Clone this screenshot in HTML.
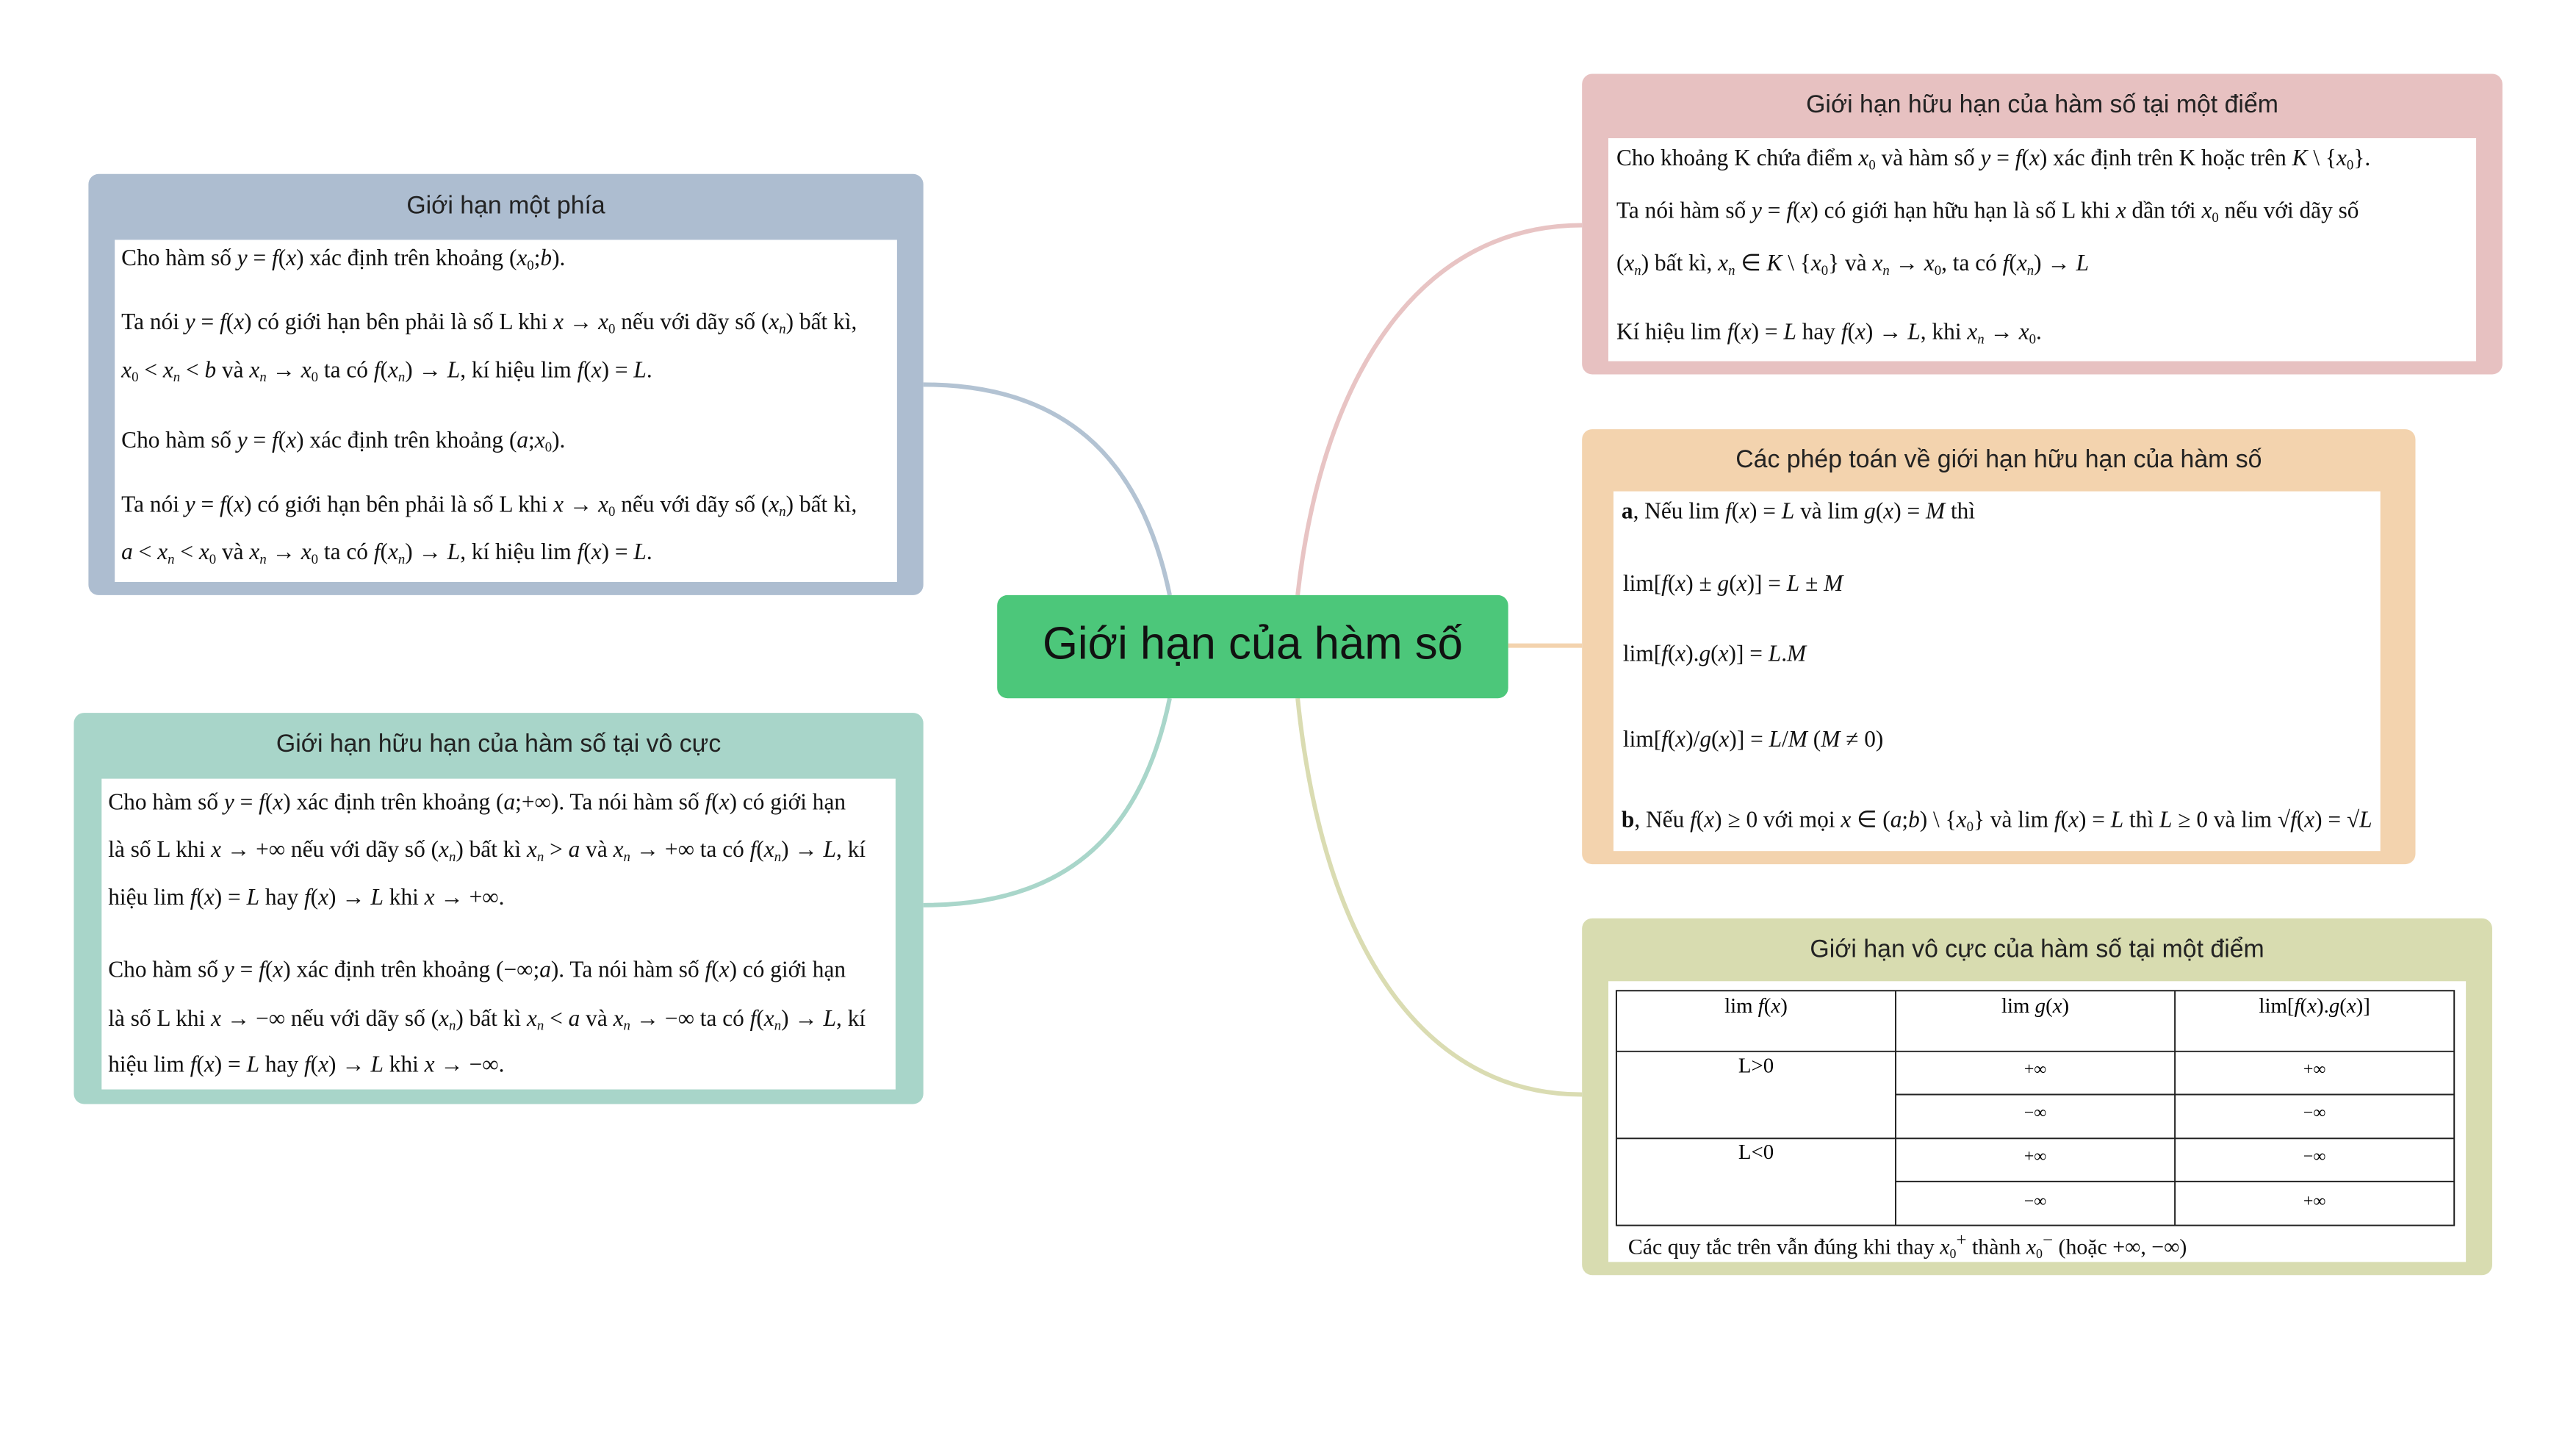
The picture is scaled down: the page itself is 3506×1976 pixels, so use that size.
<!DOCTYPE html>
<html><head><meta charset="utf-8"><style>
body{margin:0;width:3506px;height:1976px;background:#fff;position:relative;overflow:hidden;font-family:"Liberation Serif",serif;}
#wrap{position:absolute;left:0;top:0;width:3506px;height:1976px;transform:scale(0.995);transform-origin:0 0;}
.box{position:absolute;border-radius:14px;}
.w{position:absolute;background:#fff;}
.t{position:absolute;font-family:"Liberation Sans",sans-serif;font-size:34px;color:#222;text-align:center;white-space:nowrap;}
.l{position:absolute;font-size:31.5px;color:#111;white-space:nowrap;line-height:36px;}
.l i{font-style:italic;}
sub{font-size:60%;vertical-align:-0.3em;}
.c{position:absolute;font-size:29px;text-align:center;white-space:nowrap;}
</style></head><body><div id="wrap">
<svg width="3506" height="1976" style="position:absolute;left:0;top:0">
<g fill="none" stroke-width="6">
<path d="M1600 814 C1560 620 1450 526 1263 526" stroke="#b3c3d3"/>
<path d="M1600 955 C1560 1150 1450 1238 1263 1238" stroke="#a9d6ca"/>
<path d="M1775 814 C1810 500 1950 308 2164 308" stroke="#e8c4c4"/>
<path d="M2063 883 L2164 883" stroke="#f3d3ae"/>
<path d="M1775 955 C1810 1300 1950 1497 2164 1497" stroke="#dadcb2"/>
</g></svg>

<div class="box" style="left:1364px;top:814px;width:699px;height:141px;background:#4cc77a;"></div>
<div class="t" style="left:1364px;top:845px;width:699px;font-size:62px;color:#111;">Giới hạn của hàm số</div>

<div class="box" style="left:121px;top:238px;width:1142px;height:576px;background:#adbdd0;"></div>
<div class="t" style="left:121px;top:262px;width:1142px;">Giới hạn một phía</div>
<div class="w" style="left:157px;top:328px;width:1070px;height:468px;"></div>
<div class="l" style="left:166px;top:335px;">Cho hàm số <i>y</i> = <i>f</i>(<i>x</i>) xác định trên khoảng (<i>x</i><sub>0</sub>;<i>b</i>).</div>
<div class="l" style="left:166px;top:422px;">Ta nói <i>y</i> = <i>f</i>(<i>x</i>) có giới hạn bên phải là số L khi <i>x</i> → <i>x</i><sub>0</sub> nếu với dãy số (<i>x<sub>n</sub></i>) bất kì,</div>
<div class="l" style="left:166px;top:488px;"><i>x</i><sub>0</sub> &lt; <i>x<sub>n</sub></i> &lt; <i>b</i> và <i>x<sub>n</sub></i> → <i>x</i><sub>0</sub> ta có <i>f</i>(<i>x<sub>n</sub></i>) → <i>L</i>, kí hiệu lim <i>f</i>(<i>x</i>) = <i>L</i>.</div>
<div class="l" style="left:166px;top:584px;">Cho hàm số <i>y</i> = <i>f</i>(<i>x</i>) xác định trên khoảng (<i>a</i>;<i>x</i><sub>0</sub>).</div>
<div class="l" style="left:166px;top:672px;">Ta nói <i>y</i> = <i>f</i>(<i>x</i>) có giới hạn bên phải là số L khi <i>x</i> → <i>x</i><sub>0</sub> nếu với dãy số (<i>x<sub>n</sub></i>) bất kì,</div>
<div class="l" style="left:166px;top:737px;"><i>a</i> &lt; <i>x<sub>n</sub></i> &lt; <i>x</i><sub>0</sub> và <i>x<sub>n</sub></i> → <i>x</i><sub>0</sub> ta có <i>f</i>(<i>x<sub>n</sub></i>) → <i>L</i>, kí hiệu lim <i>f</i>(<i>x</i>) = <i>L</i>.</div>

<div class="box" style="left:101px;top:975px;width:1162px;height:535px;background:#a8d5c9;"></div>
<div class="t" style="left:101px;top:998px;width:1162px;">Giới hạn hữu hạn của hàm số tại vô cực</div>
<div class="w" style="left:139px;top:1065px;width:1086px;height:425px;"></div>
<div class="l" style="left:148px;top:1079px;">Cho hàm số <i>y</i> = <i>f</i>(<i>x</i>) xác định trên khoảng (<i>a</i>;+∞). Ta nói hàm số <i>f</i>(<i>x</i>) có giới hạn</div>
<div class="l" style="left:148px;top:1144px;">là số L khi <i>x</i> → +∞ nếu với dãy số (<i>x<sub>n</sub></i>) bất kì <i>x<sub>n</sub></i> &gt; <i>a</i> và <i>x<sub>n</sub></i> → +∞ ta có <i>f</i>(<i>x<sub>n</sub></i>) → <i>L</i>, kí</div>
<div class="l" style="left:148px;top:1209px;">hiệu lim <i>f</i>(<i>x</i>) = <i>L</i> hay <i>f</i>(<i>x</i>) → <i>L</i> khi <i>x</i> → +∞.</div>
<div class="l" style="left:148px;top:1308px;">Cho hàm số <i>y</i> = <i>f</i>(<i>x</i>) xác định trên khoảng (−∞;<i>a</i>). Ta nói hàm số <i>f</i>(<i>x</i>) có giới hạn</div>
<div class="l" style="left:148px;top:1375px;">là số L khi <i>x</i> → −∞ nếu với dãy số (<i>x<sub>n</sub></i>) bất kì <i>x<sub>n</sub></i> &lt; <i>a</i> và <i>x<sub>n</sub></i> → −∞ ta có <i>f</i>(<i>x<sub>n</sub></i>) → <i>L</i>, kí</div>
<div class="l" style="left:148px;top:1438px;">hiệu lim <i>f</i>(<i>x</i>) = <i>L</i> hay <i>f</i>(<i>x</i>) → <i>L</i> khi <i>x</i> → −∞.</div>

<div class="box" style="left:2164px;top:101px;width:1259px;height:411px;background:#e7c1c1;"></div>
<div class="t" style="left:2164px;top:124px;width:1259px;">Giới hạn hữu hạn của hàm số tại một điểm</div>
<div class="w" style="left:2200px;top:189px;width:1187px;height:305px;"></div>
<div class="l" style="left:2211px;top:198px;">Cho khoảng K chứa điểm <i>x</i><sub>0</sub> và hàm số <i>y</i> = <i>f</i>(<i>x</i>) xác định trên K hoặc trên <i>K</i> \ {<i>x</i><sub>0</sub>}.</div>
<div class="l" style="left:2211px;top:270px;">Ta nói hàm số <i>y</i> = <i>f</i>(<i>x</i>) có giới hạn hữu hạn là số L khi <i>x</i> dần tới <i>x</i><sub>0</sub> nếu với dãy số</div>
<div class="l" style="left:2211px;top:342px;">(<i>x<sub>n</sub></i>) bất kì, <i>x<sub>n</sub></i> ∈ <i>K</i> \ {<i>x</i><sub>0</sub>} và <i>x<sub>n</sub></i> → <i>x</i><sub>0</sub>, ta có <i>f</i>(<i>x<sub>n</sub></i>) → <i>L</i></div>
<div class="l" style="left:2211px;top:436px;">Kí hiệu lim <i>f</i>(<i>x</i>) = <i>L</i> hay <i>f</i>(<i>x</i>) → <i>L</i>, khi <i>x<sub>n</sub></i> → <i>x</i><sub>0</sub>.</div>

<div class="box" style="left:2164px;top:587px;width:1140px;height:595px;background:#f3d3ae;"></div>
<div class="t" style="left:2164px;top:609px;width:1140px;">Các phép toán về giới hạn hữu hạn của hàm số</div>
<div class="w" style="left:2207px;top:672px;width:1049px;height:492px;"></div>
<div class="l" style="left:2218px;top:681px;"><b>a</b>, Nếu lim <i>f</i>(<i>x</i>) = <i>L</i> và lim <i>g</i>(<i>x</i>) = <i>M</i> thì</div>
<div class="l" style="left:2220px;top:780px;">lim[<i>f</i>(<i>x</i>) ± <i>g</i>(<i>x</i>)] = <i>L</i> ± <i>M</i></div>
<div class="l" style="left:2220px;top:876px;">lim[<i>f</i>(<i>x</i>).<i>g</i>(<i>x</i>)] = <i>L</i>.<i>M</i></div>
<div class="l" style="left:2220px;top:993px;">lim[<i>f</i>(<i>x</i>)/<i>g</i>(<i>x</i>)] = <i>L</i>/<i>M</i> (<i>M</i> ≠ 0)</div>
<div class="l" style="left:2218px;top:1103px;"><b>b</b>, Nếu <i>f</i>(<i>x</i>) ≥ 0 với mọi <i>x</i> ∈ (<i>a</i>;<i>b</i>) \ {<i>x</i><sub>0</sub>} và lim <i>f</i>(<i>x</i>) = <i>L</i> thì <i>L</i> ≥ 0 và lim √<i>f</i>(<i>x</i>) = √<i>L</i></div>

<div class="box" style="left:2164px;top:1256px;width:1245px;height:488px;background:#d8dcb0;"></div>
<div class="t" style="left:2164px;top:1279px;width:1245px;">Giới hạn vô cực của hàm số tại một điểm</div>
<div class="w" style="left:2200px;top:1342px;width:1173px;height:384px;"></div>
<svg width="3506" height="1976" style="position:absolute;left:0;top:0">
<g stroke="#222" stroke-width="2" fill="none">
<rect x="2211" y="1355" width="1146" height="321"/>
<line x1="2593" y1="1355" x2="2593" y2="1676"/>
<line x1="2975" y1="1355" x2="2975" y2="1676"/>
<line x1="2211" y1="1438" x2="3357" y2="1438"/>
<line x1="2593" y1="1497" x2="3357" y2="1497"/>
<line x1="2211" y1="1557" x2="3357" y2="1557"/>
<line x1="2593" y1="1616" x2="3357" y2="1616"/>
</g></svg>
<div class="c" style="left:2211px;top:1360px;width:382px;">lim <i>f</i>(<i>x</i>)</div>
<div class="c" style="left:2593px;top:1360px;width:382px;">lim <i>g</i>(<i>x</i>)</div>
<div class="c" style="left:2975px;top:1360px;width:382px;">lim[<i>f</i>(<i>x</i>).<i>g</i>(<i>x</i>)]</div>
<div class="c" style="left:2211px;top:1442px;width:382px;">L&gt;0</div>
<div class="c" style="left:2211px;top:1560px;width:382px;">L&lt;0</div>
<div class="c" style="left:2593px;top:1450px;width:382px;font-size:24px;">+∞</div>
<div class="c" style="left:2975px;top:1450px;width:382px;font-size:24px;">+∞</div>
<div class="c" style="left:2593px;top:1509px;width:382px;font-size:24px;">−∞</div>
<div class="c" style="left:2975px;top:1509px;width:382px;font-size:24px;">−∞</div>
<div class="c" style="left:2593px;top:1569px;width:382px;font-size:24px;">+∞</div>
<div class="c" style="left:2975px;top:1569px;width:382px;font-size:24px;">−∞</div>
<div class="c" style="left:2593px;top:1630px;width:382px;font-size:24px;">−∞</div>
<div class="c" style="left:2975px;top:1630px;width:382px;font-size:24px;">+∞</div>
<div class="l" style="left:2227px;top:1679px;font-size:30px;">Các quy tắc trên vẫn đúng khi thay <i>x</i><sub>0</sub><sup>+</sup> thành <i>x</i><sub>0</sub><sup>−</sup> (hoặc +∞, −∞)</div>
</div></body></html>
